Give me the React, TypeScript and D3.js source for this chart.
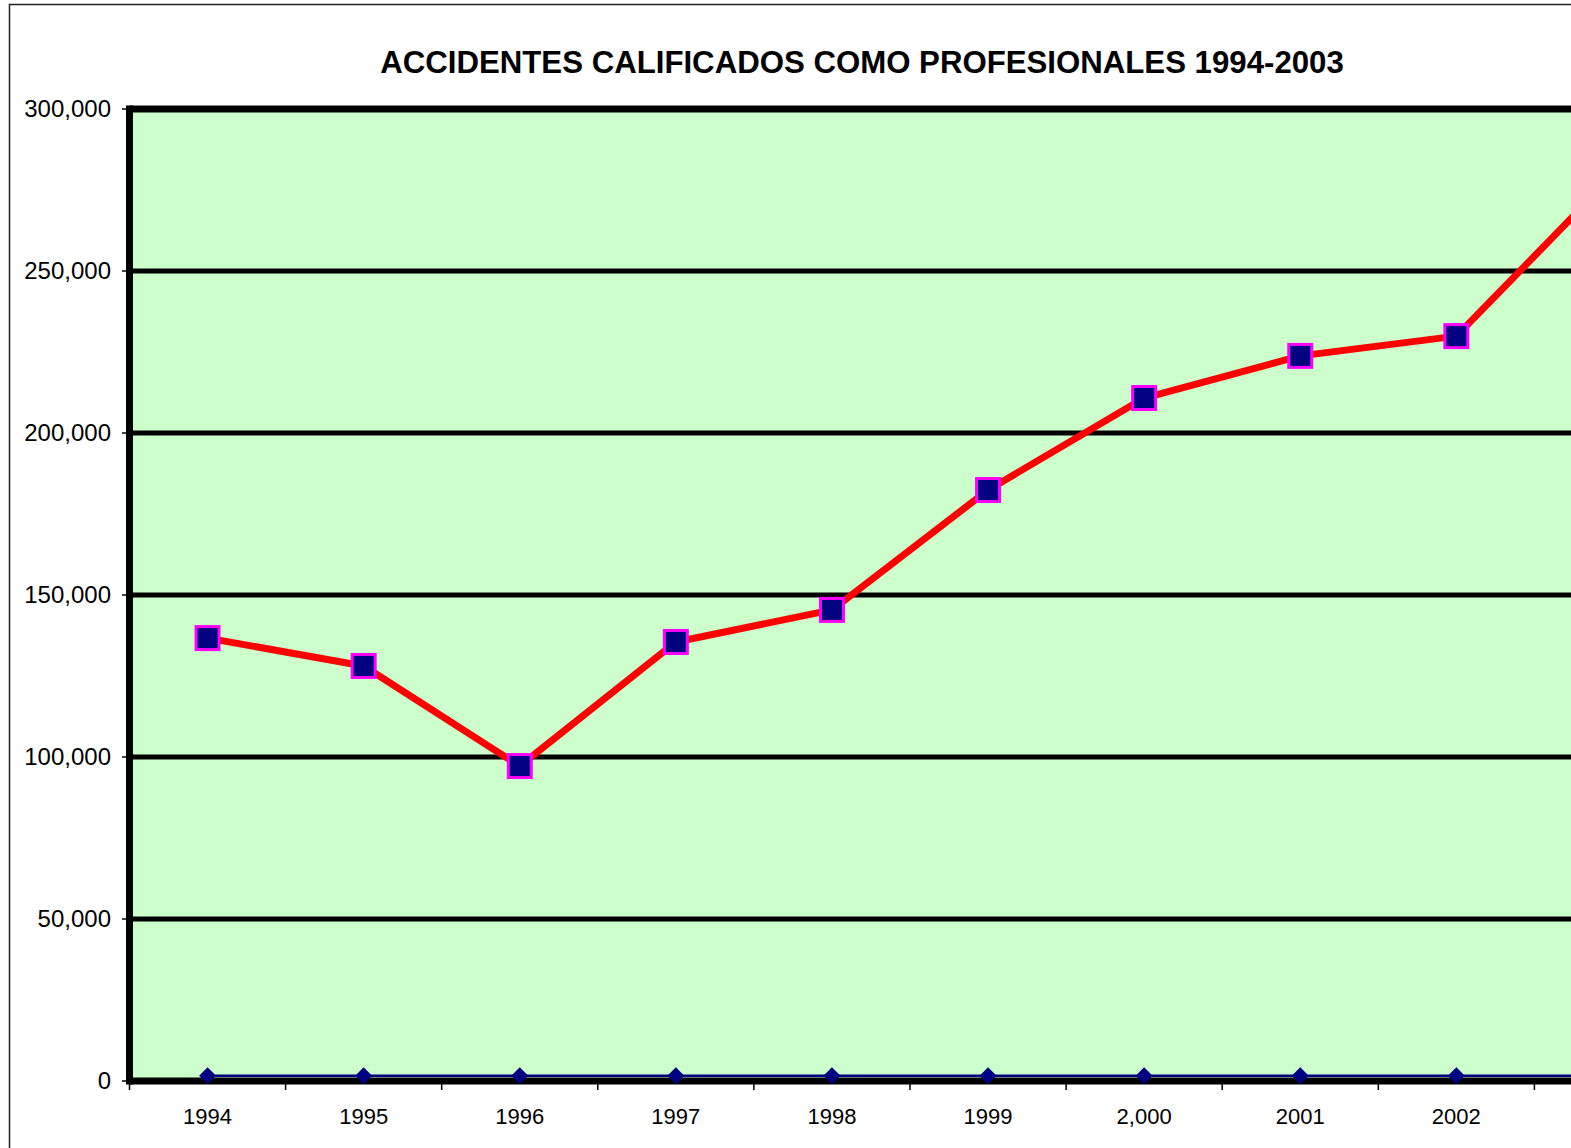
import React from 'react';
import { scaleBand, scaleLinear, line } from 'd3';

// años en el eje x (el gráfico original queda cortado a la derecha)
const years = ['1994', '1995', '1996', '1997', '1998', '1999', '2000', '2001', '2002', '2003'];
const yearLabels = ['1994', '1995', '1996', '1997', '1998', '1999', '2,000', '2001', '2002', '2003'];
const accidentes = [136700, 128100, 97200, 135500, 145400, 182400, 210800, 223800, 229900, 279300];
const serieBaja = [1600, 1600, 1600, 1600, 1600, 1600, 1600, 1600, 1600, 1600];
const yTicks = [0, 50000, 100000, 150000, 200000, 250000, 300000];

const width = 1571;
const height = 1148;
const plot = { left: 129.5, top: 109, bottom: 1081, band: 156.1 };

function App() {
	const xScale = scaleBand()
		.domain(years)
		.range([plot.left, plot.left + plot.band * years.length]);
	const yScale = scaleLinear().domain([0, 300000]).range([plot.bottom, plot.top]);
	const cx = (d: string) => (xScale(d) as number) + xScale.bandwidth() / 2;

	const mkLine = (vals: number[]) =>
		line<number>()
			.x((_, i) => cx(years[i]))
			.y((v) => yScale(v))(vals) as string;

	const plotRight = plot.left + plot.band * years.length;

	return (
		<svg
			width={width}
			height={height}
			style={{ position: 'absolute', left: 0, top: 0, fontFamily: 'Liberation Sans, Arial, sans-serif' }}
		>
			<rect x={0} y={0} width={width} height={height} fill="#fff" />
			<rect x={9.5} y={4.5} width={width + 20} height={height + 20} fill="none" stroke="#222" strokeWidth={1.5} />

			<text x={862} y={73} textAnchor="middle" fontSize={31.2} fontWeight="bold">
				ACCIDENTES CALIFICADOS COMO PROFESIONALES 1994-2003
			</text>

			<rect x={plot.left} y={plot.top} width={plotRight - plot.left} height={plot.bottom - plot.top} fill="#CCFFCC" />

			{yTicks.map((t) => (
				<g key={t}>
					{t > 0 && (
						<line x1={plot.left} x2={plotRight} y1={yScale(t)} y2={yScale(t)} stroke="#000" strokeWidth={t === 300000 ? 7 : 5} />
					)}
					<line x1={122} x2={plot.left} y1={yScale(t)} y2={yScale(t)} stroke="#000" strokeWidth={1.5} />
					<text x={111} y={yScale(t)} dy="0.35em" textAnchor="end" fontSize={24}>
						{t.toLocaleString('en-US')}
					</text>
				</g>
			))}

			{years.map((y, i) => (
				<g key={y}>
					<line x1={xScale(y)} x2={xScale(y)} y1={plot.bottom} y2={plot.bottom + 9} stroke="#000" strokeWidth={1.5} />
					{cx(y) + 30 < width && (
						<text x={cx(y)} y={1124} textAnchor="middle" fontSize={22}>
							{yearLabels[i]}
						</text>
					)}
				</g>
			))}

			<line x1={plot.left} x2={plotRight} y1={plot.bottom} y2={plot.bottom} stroke="#000" strokeWidth={7} />
			<line x1={plot.left} x2={plot.left} y1={plot.top - 3.5} y2={plot.bottom + 3.5} stroke="#000" strokeWidth={7} />

			<path d={mkLine(serieBaja)} fill="none" stroke="#000080" strokeWidth={2.5} />
			{serieBaja.map((v, i) => (
				<path
					key={i}
					transform={`translate(${cx(years[i])},${yScale(v)}) rotate(45)`}
					d="M-6,-6H6V6H-6Z"
					fill="#000080"
				/>
			))}

			<path d={mkLine(accidentes)} fill="none" stroke="#FF0000" strokeWidth={7} strokeLinejoin="round" />
			{accidentes.map((v, i) => (
				<rect
					key={i}
					x={cx(years[i]) - 11.5}
					y={yScale(v) - 11.5}
					width={23}
					height={23}
					fill="#000080"
					stroke="#FF00FF"
					strokeWidth={3}
				/>
			))}
		</svg>
	);
}

export default App;
